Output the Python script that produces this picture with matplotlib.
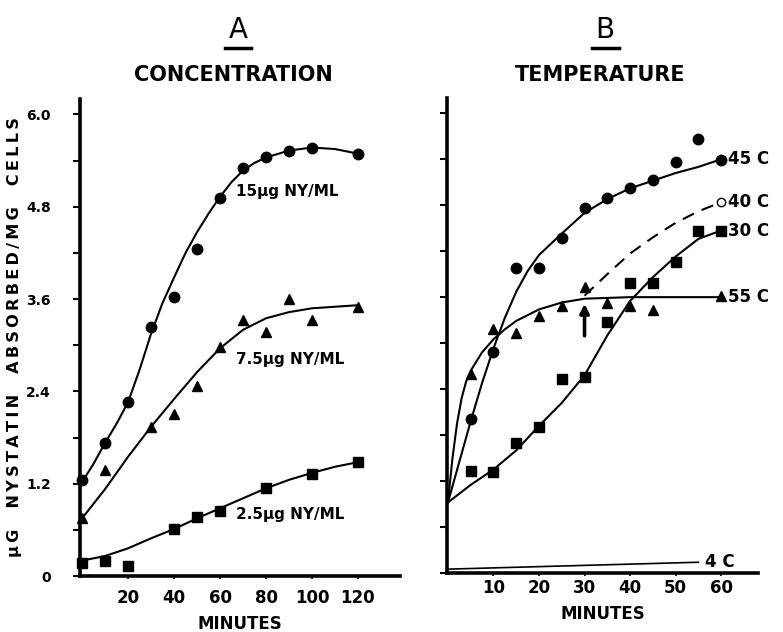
import matplotlib.pyplot as plt
from matplotlib.lines import Line2D
from matplotlib.ticker import MultipleLocator

plt.rcParams['font.family'] = ['DejaVu Sans']

# ---- panel A: concentration ----
a15_t = [0, 10, 20, 30, 40, 50, 60, 70, 80, 90, 100, 120]
a15_y = [1.25, 1.73, 2.26, 3.24, 3.63, 4.25, 4.91, 5.30, 5.45, 5.53, 5.57, 5.49]
a15_fit_t = [0, 5, 10, 15, 20, 25, 30, 35, 40, 45, 50, 55, 60, 65, 70, 75, 80, 90, 100, 110, 120]
a15_fit_y = [1.22, 1.46, 1.73, 1.98, 2.26, 2.68, 3.15, 3.55, 3.88, 4.20, 4.47, 4.71, 4.93,
             5.12, 5.27, 5.37, 5.44, 5.53, 5.57, 5.55, 5.49]

a75_t = [0, 10, 30, 40, 50, 60, 70, 80, 90, 100, 120]
a75_y = [0.75, 1.38, 1.94, 2.10, 2.47, 2.98, 3.33, 3.17, 3.60, 3.33, 3.50]
a75_fit_t = [0, 10, 20, 30, 40, 50, 60, 70, 80, 90, 100, 110, 120]
a75_fit_y = [0.75, 1.13, 1.55, 1.94, 2.30, 2.65, 2.96, 3.20, 3.35, 3.43, 3.48, 3.50, 3.52]

a25_t = [0, 10, 20, 40, 50, 60, 80, 100, 120]
a25_y = [0.17, 0.19, 0.13, 0.61, 0.77, 0.85, 1.14, 1.32, 1.48]
a25_fit_t = [0, 10, 20, 30, 40, 50, 60, 70, 80, 90, 100, 110, 120]
a25_fit_y = [0.20, 0.26, 0.36, 0.49, 0.61, 0.75, 0.88, 1.01, 1.14, 1.25, 1.34, 1.42, 1.48]

conc_labels = ["15\u00b5g NY/ML", "7.5\u00b5g NY/ML", "2.5\u00b5g NY/ML"]

# ---- panel B: temperature ----
b45_t = [5, 10, 15, 20, 25, 30, 35, 40, 45, 50, 55, 60]
b45_y = [2.01, 2.88, 3.98, 3.98, 4.37, 4.77, 4.90, 5.02, 5.13, 5.36, 5.67, 5.39]
b45_fit_t = [0, 2.5, 5, 7.5, 10, 12.5, 15, 17.5, 20, 25, 30, 35, 40, 45, 50, 55, 60]
b45_fit_y = [0.92, 1.45, 1.98, 2.48, 2.93, 3.33, 3.67, 3.94, 4.15, 4.43, 4.70, 4.88, 5.02,
             5.12, 5.22, 5.30, 5.40]

b40_fit_t = [30, 35, 40, 45, 50, 55, 60]
b40_fit_y = [3.62, 3.90, 4.17, 4.38, 4.57, 4.72, 4.84]

b30_t = [5, 10, 15, 20, 25, 30, 35, 40, 45, 50, 55, 60]
b30_y = [1.33, 1.32, 1.70, 1.90, 2.53, 2.56, 3.27, 3.78, 3.78, 4.06, 4.47, 4.47]
b30_fit_t = [0, 5, 10, 15, 20, 25, 30, 35, 40, 45, 50, 55, 60]
b30_fit_y = [0.92, 1.15, 1.35, 1.60, 1.92, 2.22, 2.58, 3.10, 3.55, 3.86, 4.13, 4.36, 4.47]

b55_t = [5, 10, 15, 20, 25, 30, 35, 40, 45, 60]
b55_y = [2.60, 3.18, 3.13, 3.36, 3.48, 3.73, 3.53, 3.48, 3.43, 3.61]
b55_fit_t = [0, 1, 2, 3, 4, 5, 7.5, 10, 12.5, 15, 20, 25, 30, 40, 60]
b55_fit_y = [0.92, 1.50, 1.95, 2.28, 2.50, 2.64, 2.88, 3.05, 3.18, 3.29, 3.44, 3.53, 3.58, 3.60,
             3.60]

b4_fit_t = [0, 55]
b4_fit_y = [0.05, 0.14]

arrow_t = 30
arrow_from, arrow_to = 3.06, 3.55

temp_labels = ["45 C", "40 C", "30 C", "55 C", "4 C"]
temp_label_y = [5.40, 4.84, 4.47, 3.60, 0.14]

fig = plt.figure(figsize=(7.83, 6.32), dpi=100)
axA = fig.add_axes([0.1022, 0.0886, 0.4087, 0.7547])
axB = fig.add_axes([0.5709, 0.0934, 0.3972, 0.7516])

mk = dict(color="black", linestyle="none", markersize=7.5, clip_on=False, zorder=3)
ln = dict(color="black", linewidth=1.5, clip_on=False, zorder=2)

for ax in (axA, axB):
    for s in ("top", "right"):
        ax.spines[s].set_visible(False)
    for s in ("left", "bottom"):
        ax.spines[s].set_linewidth(2.6)
    ax.set_ylim(0, 6.2)
    ax.yaxis.set_major_locator(MultipleLocator(1.2))
    ax.yaxis.set_minor_locator(MultipleLocator(0.6))
    ax.tick_params(axis="y", which="both", direction="out", length=5, width=1.5)
    ax.tick_params(axis="x", direction="out", length=2, width=1.2)
    ax.set_xlabel("MINUTES", fontsize=12, fontweight="bold", labelpad=6)

# panel A
axA.plot(a15_fit_t, a15_fit_y, **ln)
axA.plot(a75_fit_t, a75_fit_y, **ln)
axA.plot(a25_fit_t, a25_fit_y, **ln)
axA.plot(a15_t, a15_y, marker="o", **mk)
axA.plot(a75_t, a75_y, marker="^", **mk)
axA.plot(a25_t, a25_y, marker="s", **mk)
axA.set_xlim(-0.9, 138.3)
axA.set_xticks([20, 40, 60, 80, 100, 120])
axA.set_yticks([0, 1.2, 2.4, 3.6, 4.8, 6.0])
axA.set_yticklabels(["0", "1.2", "2.4", "3.6", "4.8", "6.0"], fontsize=10, fontweight="bold")
axA.set_xticklabels(["20", "40", "60", "80", "100", "120"], fontsize=12, fontweight="bold")
axA.tick_params(axis="y", pad=16)
axA.tick_params(axis="x", pad=7)
lab_kw = dict(fontsize=11, fontweight="bold", ha="left", va="center")
axA.text(67, 5.0, conc_labels[0], **lab_kw)
axA.text(67, 2.82, conc_labels[1], **lab_kw)
axA.text(67, 0.8, conc_labels[2], **lab_kw)
# letter-spaced like the original hand lettering
ylab = "\u2009".join("\u00b5G  NYSTATIN  ABSORBED/MG  CELLS")
axA.set_ylabel(ylab, fontsize=11.6, fontweight="bold", labelpad=3)

# panel B
axB.plot(b45_fit_t, b45_fit_y, **ln)
axB.plot(b40_fit_t, b40_fit_y, linestyle=(0, (6, 4)), color="black", linewidth=1.5)
axB.plot(b30_fit_t, b30_fit_y, **ln)
axB.plot(b55_fit_t, b55_fit_y, **ln)
axB.plot(b4_fit_t, b4_fit_y, color="black", linewidth=1.2)
axB.plot(b45_t, b45_y, marker="o", **mk)
axB.plot(b30_t, b30_y, marker="s", **mk)
axB.plot(b55_t, b55_y, marker="^", **mk)
axB.plot([60], [b40_fit_y[-1]], marker="o", markerfacecolor="white", color="black",
         markersize=6, linestyle="none", zorder=3)
axB.annotate("", xy=(arrow_t, arrow_to), xytext=(arrow_t, arrow_from),
             arrowprops=dict(arrowstyle="-|>", color="black", linewidth=2.6,
                             mutation_scale=13))
axB.set_xlim(-0.2, 68.1)
axB.set_xticks([10, 20, 30, 40, 50, 60])
axB.set_xticklabels(["10", "20", "30", "40", "50", "60"], fontsize=12, fontweight="bold")
axB.tick_params(axis="x", pad=2)
axB.tick_params(axis="y", labelleft=False)
for lab, y in zip(temp_labels, temp_label_y):
    x = 56.5 if lab == "4 C" else 61.5
    axB.text(x, y, lab, fontsize=12, fontweight="bold", ha="left", va="center",
             clip_on=False)

# titles
for x, letter, title in ((0.304, "A", "CONCENTRATION"), (0.773, "B", "TEMPERATURE")):
    fig.text(x, 0.952, letter, fontsize=20, ha="center", va="center")
    fig.add_artist(Line2D([x - 0.017, x + 0.017], [0.924, 0.924], color="black",
                          linewidth=2.5, transform=fig.transFigure))
    fig.text(x - 0.006, 0.881, title, fontsize=15, fontweight="bold", ha="center",
             va="center")

fig.savefig("out.png", dpi=100)
